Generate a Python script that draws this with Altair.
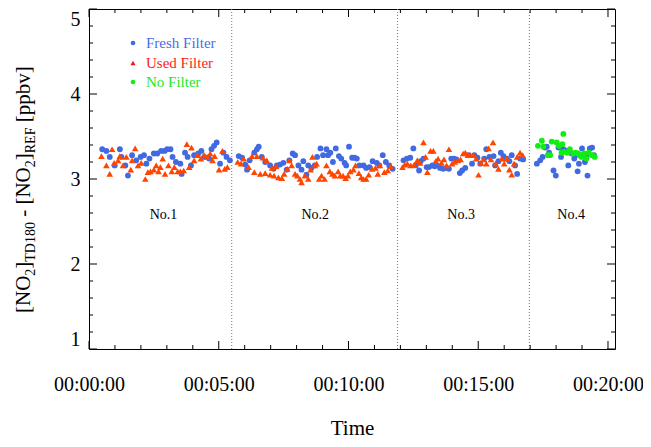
import altair as alt
import pandas as pd

# ---------------- data ----------------
fresh_time = [0.51, 0.67, 0.80, 0.99, 1.19, 1.25, 1.40, 1.50, 1.66, 1.82, 1.99, 2.12, 2.21, 2.33, 2.50,
              2.63, 2.78, 2.91, 3.01, 3.14, 3.22, 3.35, 3.52, 3.57, 3.70, 3.80, 3.93, 4.05, 4.21, 4.33,
              4.44, 4.63, 4.72, 4.82, 4.92, 5.05, 5.18, 5.30, 5.43,
              5.77, 5.90, 6.02, 6.09, 6.19, 6.37, 6.47, 6.54, 6.66, 6.79, 6.98, 7.11, 7.24, 7.36, 7.49,
              7.62, 7.72, 7.85, 7.94, 8.07, 8.19, 8.26, 8.38, 8.45, 8.57, 8.70, 8.79, 8.92, 9.02, 9.15,
              9.21, 9.30, 9.40, 9.51, 9.63, 9.72, 9.85, 9.91, 10.02, 10.14, 10.23, 10.32, 10.42, 10.58,
              10.68, 10.81, 10.93, 11.09, 11.19, 11.32, 11.44, 11.57, 11.70,
              12.12, 12.25, 12.38, 12.50, 12.59, 12.72, 12.78, 12.89, 13.01, 13.10, 13.23, 13.32, 13.42,
              13.53, 13.65, 13.78, 13.87, 13.96, 14.06, 14.16, 14.29, 14.38, 14.50, 14.63, 14.76, 14.85,
              14.97, 15.08, 15.23, 15.31, 15.43, 15.59, 15.65, 15.78, 15.87, 15.97, 16.10, 16.20, 16.29,
              16.42, 16.50, 16.61, 16.73,
              17.26, 17.39, 17.48, 17.58, 17.64, 17.73, 17.90, 17.99, 18.09, 18.19, 18.28, 18.41, 18.47,
              18.60, 18.70, 18.75, 18.83, 18.88, 18.95, 19.00, 19.11, 19.17, 19.21, 19.30, 19.39, 19.46]
fresh_value = [3.35, 3.33, 3.26, 3.16, 3.35, 3.26, 3.16, 3.04, 3.28, 3.22, 3.26, 3.28, 3.18, 3.24, 3.30,
               3.30, 3.33, 3.33, 3.35, 3.35, 3.26, 3.20, 3.18, 3.06, 3.31, 3.26, 3.16, 3.28, 3.30, 3.33,
               3.26, 3.24, 3.35, 3.39, 3.43, 3.18, 3.31, 3.26, 3.22,
               3.27, 3.25, 3.17, 3.11, 3.22, 3.31, 3.35, 3.38, 3.26, 3.20, 3.16, 3.12, 3.16, 3.17, 3.19,
               3.11, 3.22, 3.30, 3.28, 3.16, 3.11, 3.21, 3.05, 3.16, 3.13, 3.16, 3.26, 3.36, 3.28, 3.35,
               3.28, 3.31, 3.20, 3.36, 3.27, 3.24, 3.19, 3.16, 3.38, 3.25, 3.25, 3.24, 3.16, 3.16,
               3.13, 3.14, 3.21, 3.19, 3.16, 3.28, 3.20, 3.16, 3.12,
               3.22, 3.24, 3.25, 3.36, 3.16, 3.10, 3.21, 3.24, 3.14, 3.14, 3.16, 3.15, 3.16,
               3.13, 3.12, 3.13, 3.12, 3.24, 3.24, 3.23, 3.07, 3.10, 3.13, 3.28, 3.18, 3.28,
               3.25, 3.18, 3.24, 3.35, 3.26, 3.27, 3.16, 3.21, 3.31, 3.27, 3.24, 3.21, 3.28,
               3.16, 3.06, 3.24, 3.23,
               3.18, 3.22, 3.26, 3.37, 3.38, 3.31, 3.10, 3.04, 3.37, 3.26, 3.35, 3.33, 3.16,
               3.30, 3.24, 3.28, 3.09, 3.18, 3.28, 3.36, 3.20, 3.26, 3.04, 3.36, 3.37, 3.28]

used_time = [0.48, 0.67, 0.80, 0.89, 0.97, 1.12, 1.19, 1.31, 1.44, 1.61, 1.66, 1.78, 1.89, 2.01, 2.17,
             2.27, 2.37, 2.50, 2.59, 2.68, 2.75, 2.84, 2.93, 3.06, 3.19, 3.29, 3.42, 3.52, 3.65, 3.77,
             3.86, 3.95, 4.05, 4.18, 4.31, 4.44, 4.56, 4.67, 4.76, 4.84, 5.01, 5.14, 5.23, 5.33,
             5.73, 5.86, 5.96, 6.15, 6.28, 6.37, 6.47, 6.60, 6.70, 6.79, 6.85, 6.98, 7.05, 7.13, 7.21,
             7.30, 7.43, 7.52, 7.64, 7.72, 7.81, 7.94, 8.03, 8.13, 8.19, 8.32, 8.45, 8.54, 8.61, 8.70,
             8.77, 8.87, 8.96, 9.08, 9.15, 9.28, 9.38, 9.47, 9.60, 9.68, 9.79, 9.89, 9.98, 10.07, 10.19,
             10.27, 10.40, 10.49, 10.58, 10.68, 10.78, 10.91, 11.04, 11.13, 11.21, 11.38, 11.51, 11.63,
             12.08, 12.17, 12.27, 12.40, 12.53, 12.65, 12.76, 12.89, 12.97, 13.04, 13.16, 13.27, 13.36,
             13.45, 13.58, 13.68, 13.78, 13.87, 13.99, 14.09, 14.21, 14.32, 14.42, 14.50, 14.60, 14.70,
             14.82, 14.92, 15.01, 15.10, 15.21, 15.31, 15.40, 15.49, 15.57, 15.67, 15.78, 15.91, 16.00,
             16.10, 16.20, 16.29, 16.38, 16.50, 16.61, 16.71]
used_value = [3.27, 3.16, 3.06, 3.35, 3.19, 3.22, 3.27, 3.16, 3.26, 3.11, 3.22, 3.36, 3.16, 3.19, 3.00,
              3.08, 3.09, 3.11, 3.16, 3.09, 3.14, 3.24, 3.06, 3.16, 3.09, 3.14, 3.09, 3.09, 3.10, 3.41,
              3.14, 3.37, 3.22, 3.28, 3.24, 3.28, 3.26, 3.30, 3.22, 3.27, 3.11, 3.33, 3.12, 3.14,
              3.20, 3.18, 3.24, 3.14, 3.27, 3.08, 3.27, 3.06, 3.25, 3.07, 3.22, 3.05, 3.13, 3.04, 3.15,
              3.02, 3.01, 3.06, 3.12, 3.22, 3.16, 3.06, 3.04, 3.00, 2.96, 3.04, 3.00, 3.11, 3.26, 3.16,
              3.18, 3.00, 3.04, 3.00, 3.16, 3.09, 3.06, 3.04, 3.09, 3.04, 3.04, 3.01, 3.04, 3.09, 3.11,
              3.16, 3.07, 3.02, 3.00, 3.00, 3.05, 3.12, 3.13, 3.06, 3.16, 3.08, 3.10, 3.15,
              3.14, 3.17, 3.18, 3.16, 3.17, 3.22, 3.19, 3.43, 3.26, 3.08, 3.33, 3.33, 3.21,
              3.24, 3.19, 3.23, 3.16, 3.35, 3.18, 3.20, 3.22, 3.23, 3.30, 3.31, 3.28, 3.28,
              3.28, 3.24, 3.05, 3.19, 3.23, 3.18, 3.36, 3.23, 3.43, 3.18, 3.12, 3.24, 3.18,
              3.24, 3.11, 3.05, 3.18, 3.26, 3.31, 3.28]

nofilter_time = [17.30, 17.45, 17.51, 17.68, 17.77, 17.83, 18.02, 18.11, 18.21, 18.24, 18.28, 18.32,
                 18.44, 18.53, 18.66, 18.75, 18.85, 18.92, 18.98, 19.08, 19.17, 19.26, 19.39, 19.49]
nofilter_value = [3.39, 3.45, 3.38, 3.28, 3.28, 3.44, 3.43, 3.39, 3.31, 3.41, 3.53, 3.32,
                  3.31, 3.35, 3.30, 3.31, 3.30, 3.28, 3.26, 3.30, 3.24, 3.31, 3.28, 3.26]

legend_labels = ["Fresh Filter", "Used Filter", "No Filter"]
segment_names = ["No.1", "No.2", "No.3", "No.4"]
segment_centers = [2.87, 8.72, 14.34, 18.58]
segment_label_level = 2.58
separator_times = [5.5, 11.89, 16.97]

x_domain = [0, 20.27]
y_domain = [1, 5]
x_major = [0, 5, 10, 15, 20]
x_tick_labels = ["00:00:00", "00:05:00", "00:10:00", "00:15:00", "00:20:00"]
x_minor = [1, 2, 3, 4, 6, 7, 8, 9, 11, 12, 13, 14, 16, 17, 18, 19]
y_major = [1, 2, 3, 4, 5]
y_minor = [1.2, 1.4, 1.6, 1.8, 2.2, 2.4, 2.6, 2.8, 3.2, 3.4, 3.6, 3.8, 4.2, 4.4, 4.6, 4.8]

title_parts = ["[NO", "2", "]", "TD180", " - [NO", "2", "]", "REF", " [ppbv]"]
title_is_sub = [False, True, False, True, False, True, False, True, False]

# ---------------- layout / style ----------------
W, H = 526, 340
LEFT = 81                      # plot left edge sits at 8 + LEFT on the page
FONT = "Liberation Serif"
BLUE = "#4169E1"
ORANGE = "#FF4500"
GREEN = "#11EE11"

xs = alt.Scale(domain=x_domain, nice=False, zero=False)
ys = alt.Scale(domain=y_domain, nice=False, zero=False)

label_expr = " : ".join(
    f"datum.value == {v} ? '{s}'" for v, s in zip(x_major, x_tick_labels)) + " : ''"

xaxis = alt.Axis(values=x_major, labelExpr=label_expr, ticks=False, domain=False, grid=False,
                 labelFlush=False, labelOverlap=False,
                 labelFont=FONT, labelFontSize=20, labelColor="black", labelPadding=25,
                 title="Time", titleFont=FONT, titleFontSize=21, titleFontWeight="normal",
                 titleColor="black", titlePadding=23)
yaxis = alt.Axis(values=y_major, ticks=False, domain=False, grid=False, labelFlush=True,
                 labelFont=FONT, labelFontSize=20, labelColor="black", labelPadding=9,
                 title=None)


def X(field="t"):
    return alt.X(f"{field}:Q", scale=xs, axis=xaxis)


def Y(field="v"):
    return alt.Y(f"{field}:Q", scale=ys, axis=yaxis)


layers = []

# dotted separators
layers.append(alt.Chart(pd.DataFrame({"t": separator_times})).mark_rule(
    color="#777777", strokeDash=[1, 2], strokeWidth=1).encode(x=X()))

# inward ticks on all four sides
for vals, length in [(x_major, 8), (x_minor, 4)]:
    df = pd.DataFrame({"t": vals})
    layers.append(alt.Chart(df).mark_rule(color="black", strokeWidth=1).encode(
        x=X(), y=alt.value(H), y2=alt.value(H - length)))
    layers.append(alt.Chart(df).mark_rule(color="black", strokeWidth=1).encode(
        x=X(), y=alt.value(0), y2=alt.value(length)))
for vals, length in [(y_major, 8), (y_minor, 4)]:
    df = pd.DataFrame({"v": vals})
    layers.append(alt.Chart(df).mark_rule(color="black", strokeWidth=1).encode(
        y=Y(), x=alt.value(0), x2=alt.value(length)))
    layers.append(alt.Chart(df).mark_rule(color="black", strokeWidth=1).encode(
        y=Y(), x=alt.value(W), x2=alt.value(W - length)))


def pts(t, v, shape, color, size):
    df = pd.DataFrame({"t": t, "v": v})
    return alt.Chart(df).mark_point(shape=shape, filled=True, size=size, color=color,
                                     opacity=1, strokeWidth=0).encode(x=X(), y=Y())


layers.append(pts(fresh_time, fresh_value, "circle", BLUE, 34))
layers.append(pts(used_time, used_value, "triangle-up", ORANGE, 44))
layers.append(pts(nofilter_time, nofilter_value, "circle", GREEN, 34))

# segment labels
seg_df = pd.DataFrame({"t": segment_centers, "v": [segment_label_level] * len(segment_names),
                       "name": segment_names})
layers.append(alt.Chart(seg_df).mark_text(font=FONT, fontSize=14, color="black").encode(
    x=X(), y=Y(), text="name:N"))

# legend (drawn by hand so every label gets its own colour)
legend_shapes = ["circle", "triangle-up", "circle"]
legend_marker_colors = [BLUE, "#FF1010", "#11EE11"]
legend_text_colors = ["#4a6ee6", "#FF1A1A", "#1EE61E"]
legend_marker_sizes = [22, 26, 22]
legend_row_y = [34, 54, 73]
for lab, shp, mc, tc, ms, ry in zip(legend_labels, legend_shapes, legend_marker_colors,
                                     legend_text_colors, legend_marker_sizes, legend_row_y):
    df = pd.DataFrame({"label": [lab]})
    layers.append(alt.Chart(df).mark_point(shape=shp, filled=True, size=ms, color=mc, opacity=1,
                                           strokeWidth=0).encode(
        x=alt.value(44), y=alt.value(ry)))
    layers.append(alt.Chart(df).mark_text(font=FONT, fontSize=15, color=tc, align="left",
                                          baseline="middle").encode(
        x=alt.value(57), y=alt.value(ry), text="label:N"))

# rotated y title with subscripts
TW = {'[': 333, 'N': 722, 'O': 722, ']': 333, '2': 500, 'T': 611, 'D': 722, '1': 500, '8': 500,
      '0': 500, ' ': 250, '-': 333, 'R': 667, 'E': 611, 'F': 556, 'p': 500, 'b': 500, 'v': 500}
MAIN, SUB = 21, 14
pos = 304.0
for txt, is_sub in zip(title_parts, title_is_sub):
    size = SUB if is_sub else MAIN
    lead = len(txt) - len(txt.lstrip(" "))
    start = pos - lead * TW[' '] / 1000 * size
    body = txt.lstrip(" ")
    layers.append(alt.Chart(pd.DataFrame({"s": [body]})).mark_text(
        font=FONT, fontSize=size, color="black", angle=270, align="left",
        baseline="alphabetic").encode(
        x=alt.value(-54 if is_sub else -59), y=alt.value(start), text="s:N"))
    pos -= sum(TW[c] for c in txt) / 1000 * size

chart = alt.layer(*layers).properties(
    width=W, height=H,
    autosize=alt.AutoSizeParams(type="none"),
    padding={"left": LEFT, "top": 1, "right": 635 - LEFT - W, "bottom": 89},
    background="white",
).configure_view(stroke="black", strokeWidth=1)

chart.save("out.html", embed_options={"renderer": "svg", "actions": False})
